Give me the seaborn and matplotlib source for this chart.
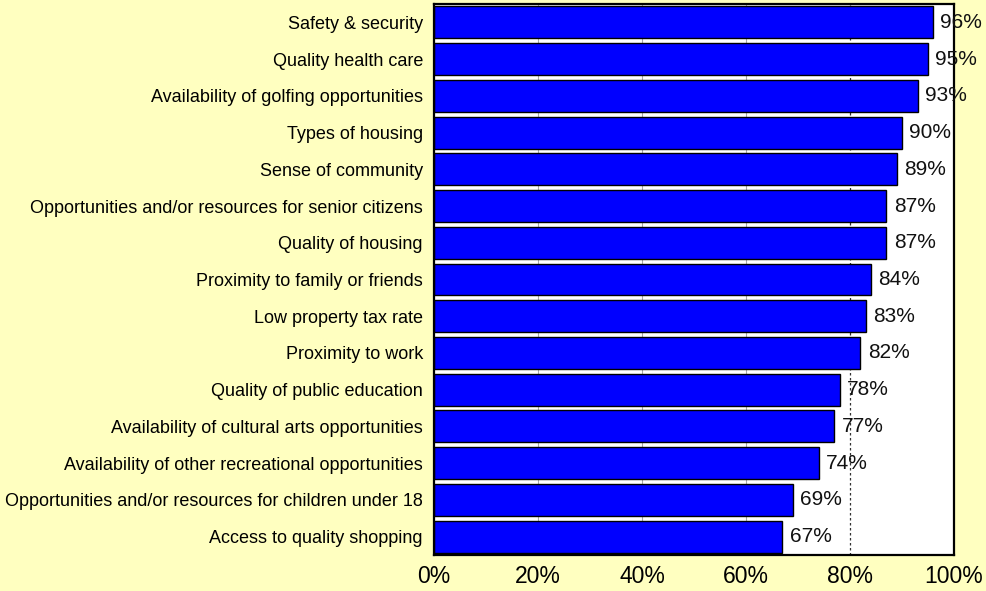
import matplotlib
matplotlib.use("Agg")
import matplotlib.pyplot as plt
import seaborn as sns
import pandas as pd
from matplotlib.ticker import FuncFormatter

categories = [
    "Safety & security",
    "Quality health care",
    "Availability of golfing opportunities",
    "Types of housing",
    "Sense of community",
    "Opportunities and/or resources for senior citizens",
    "Quality of housing",
    "Proximity to family or friends",
    "Low property tax rate",
    "Proximity to work",
    "Quality of public education",
    "Availability of cultural arts opportunities",
    "Availability of other recreational opportunities",
    "Opportunities and/or resources for children under 18",
    "Access to quality shopping",
]
values = [96, 95, 93, 90, 89, 87, 87, 84, 83, 82, 78, 77, 74, 69, 67]
x_ticks = [0, 20, 40, 60, 80, 100]

df = pd.DataFrame({"category": categories, "value": values})

sns.set_theme(style="white")
plt.rcParams["font.family"] = ["Liberation Sans", "DejaVu Sans"]

bg = "#FFFFC0"
fig = plt.figure(figsize=(9.87, 5.91), dpi=100, facecolor=bg)
ax = fig.add_axes([434 / 987, 1 - 555 / 591, 520 / 987, 551 / 591])
ax.set_facecolor("white")

# light gridlines behind the bars, dotted reference line at 80%
for t in x_ticks[1:4]:
    ax.axvline(t, color="#a8a8a8", lw=0.8, zorder=0)
ax.axvline(80, color="#333333", lw=0.9, ls=(0, (2, 2)), zorder=0)

sns.barplot(data=df, x="value", y="category", orient="h", color="#0000FF",
            saturation=1, width=0.87, edgecolor="black", linewidth=1.0,
            ax=ax, zorder=2)

for i, v in enumerate(values):
    ax.text(v + 1.4, i, f"{v}%", va="center", ha="left", fontsize=15,
            color="#111111", clip_on=False, zorder=5)

ax.set_xlim(0, 100)
ax.set_ylim(len(categories) - 0.5, -0.5)
ax.set_xticks(x_ticks)
ax.xaxis.set_major_formatter(FuncFormatter(lambda x, _: f"{x:.0f}%"))
ax.tick_params(axis="x", labelsize=16.5, length=0, pad=7, colors="black")
ax.tick_params(axis="y", labelsize=13, length=0, pad=8, colors="black")
ax.set_xlabel("")
ax.set_ylabel("")
for s in ax.spines.values():
    s.set_color("black")
    s.set_linewidth(1.6)
    s.set_visible(True)

fig.savefig("out.png", dpi=100, facecolor=bg)
